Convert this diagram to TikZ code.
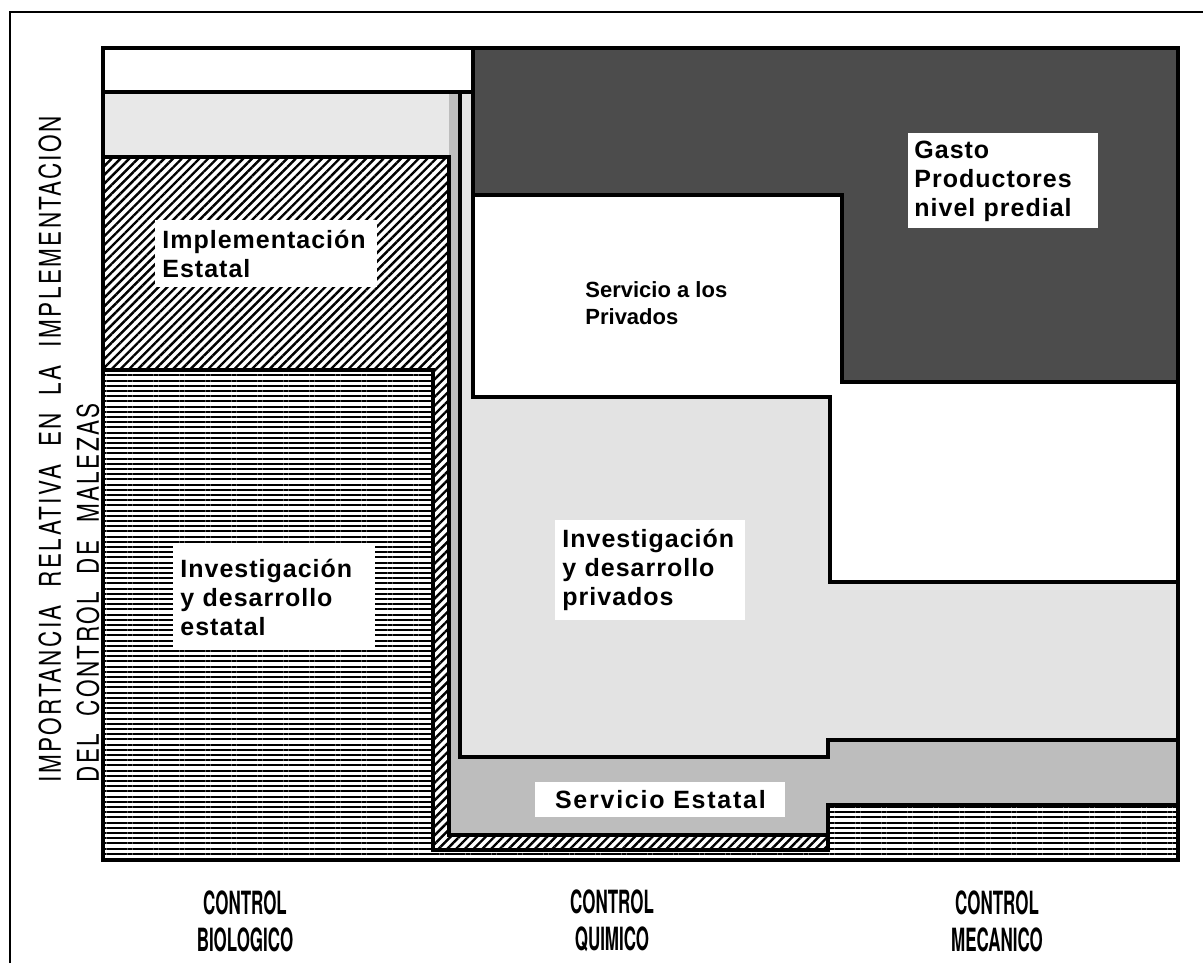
\documentclass[tikz,border=0pt]{standalone}
\usepackage{fontspec}
\setmainfont{Liberation Sans}
\newfontfamily\lblfont[LetterSpace=4]{Liberation Sans}
\newfontfamily\widelbl[LetterSpace=7]{Liberation Sans}
\newfontfamily\axcond[FakeStretch=0.53]{TeX Gyre Heros}
\newfontfamily\ycond[FakeStretch=0.75,LetterSpace=8]{TeX Gyre Heros}
\usetikzlibrary{patterns.meta}
\definecolor{sevgray}{gray}{0.74}
\definecolor{sevlight}{gray}{0.91}
\definecolor{idpgray}{gray}{0.89}
\definecolor{darkfill}{gray}{0.30}
\tikzset{
  layer/.style={draw=black, line width=1.8pt, line join=miter},
  hlines/.style={layer, pattern={Lines[angle=0,distance=2.6pt,line width=1.05pt]}},
  hatchfill/.style={layer, pattern={Lines[angle=45,distance=3.1pt,line width=1.2pt]}},
  lbl/.style={fill=white, inner xsep=3.5pt, inner ysep=0pt, align=left, anchor=north west,
    font={\lblfont\fontsize{12.5}{14.5}\selectfont\bfseries}},
  axlbl/.style={align=center, inner sep=0pt, font={\axcond\fontsize{16}{18.5}\selectfont\bfseries}},
  ylab/.style={inner sep=0pt, anchor=west, rotate=90, font={\ycond\fontsize{15}{16}\selectfont}}
}
\newcommand{\wgap}{\hspace{9pt}}
\begin{document}
\begin{tikzpicture}[x=0.5pt,y=-0.5pt]
\useasboundingbox (0,0) rectangle (1203,963);
% outer frame
\draw[line width=1.2pt] (10,963) -- (10,12) -- (1203,12);
% layers
\path[hlines] (103,370) -- (433,370) -- (433,850) -- (828,850) -- (828,805) -- (1178,805) -- (1178,860) -- (103,860) -- cycle;
\path[hatchfill] (103,157) -- (449,157) -- (449,835) -- (828,835) -- (828,850) -- (433,850) -- (433,370) -- (103,370) -- cycle;
\fill[sevgray] (103,92) -- (460,92) -- (460,757) -- (828,757) -- (828,740) -- (1178,740) -- (1178,805) -- (828,805) -- (828,835) -- (449,835) -- (449,157) -- (103,157) -- cycle;
\fill[sevlight] (103,92) rectangle (449,157);
\path[layer] (103,92) -- (460,92) -- (460,757) -- (828,757) -- (828,740) -- (1178,740) -- (1178,805) -- (828,805) -- (828,835) -- (449,835) -- (449,157) -- (103,157) -- cycle;
\path[layer, fill=idpgray] (460,92) -- (473,92) -- (473,397) -- (830,397) -- (830,582) -- (1178,582) -- (1178,740) -- (828,740) -- (828,757) -- (460,757) -- cycle;
\path[layer, fill=white] (103,48) -- (473,48) -- (473,92) -- (103,92) -- cycle;
\path[layer, fill=white] (473,195) -- (842,195) -- (842,382) -- (1178,382) -- (1178,582) -- (830,582) -- (830,397) -- (473,397) -- cycle;
\path[layer, fill=darkfill] (473,48) -- (1178,48) -- (1178,382) -- (842,382) -- (842,195) -- (473,195) -- cycle;
% labels
\node[lbl, text width=104pt, minimum height=33.5pt] (impl) at (155,220) {Implementación\\Estatal};
\node[lbl, text width=94pt, minimum height=52.5pt] (ideest) at (173,545) {Investigación\\y desarrollo\\estatal};
\node[lbl, text width=88pt, minimum height=50pt] (idepriv) at (555,520) {Investigación\\y desarrollo\\privados};
\node[lbl, text width=89pt, minimum height=47.5pt, inner xsep=3pt] (gasto) at (908,133) {Gasto\\Productores\\nivel predial};
\node[lbl, align=center, minimum width=125pt, minimum height=17.5pt, font={\widelbl\fontsize{12.5}{14.5}\selectfont\bfseries}] (servest) at (535,782) {Servicio Estatal};
\node[anchor=north west, inner sep=0pt, align=left, font={\fontsize{11}{13.5}\selectfont\bfseries}] (servpriv) at (585,281) {Servicio a los\\Privados};
% axis labels
\node[axlbl] (cbio) at (245,921) {CONTROL\\BIOLOGICO};
\node[axlbl] (cqui) at (612,921) {CONTROL\\QUIMICO};
\node[axlbl] (cmec) at (997,921) {CONTROL\\MECANICO};
\node[ylab] (yl1) at (50,783) {IMPORTANCIA\wgap RELATIVA\wgap EN\wgap LA\wgap IMPLEMENTACION};
\node[ylab] (yl2) at (88,783) {DEL\wgap CONTROL\wgap DE\wgap MALEZAS};
\end{tikzpicture}
\end{document}
